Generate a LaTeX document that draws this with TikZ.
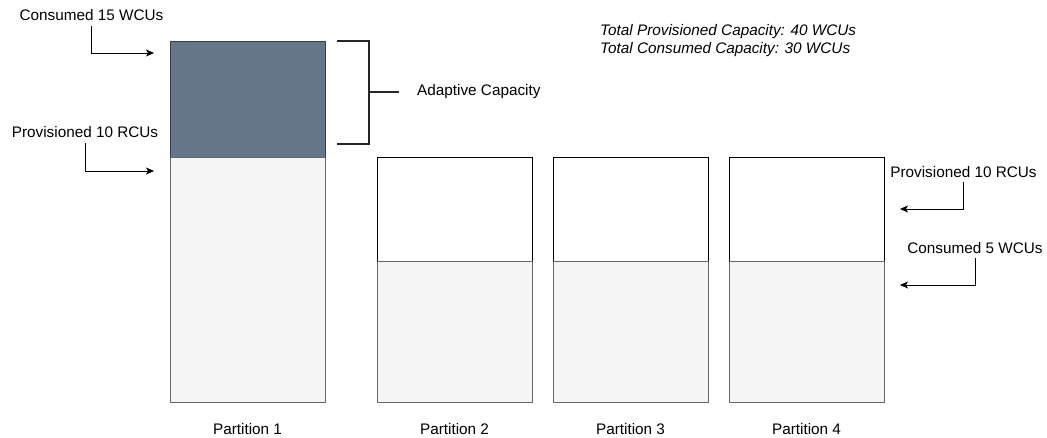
\documentclass[tikz,border=0pt]{standalone}
\usepackage{fontspec}
\setmainfont{Liberation Sans}
\usepackage{xcolor}
\usepackage{tikz}
\usetikzlibrary{arrows.meta,positioning}
\definecolor{capDark}{HTML}{647687}
\definecolor{capDarkLine}{HTML}{314354}
\definecolor{capLight}{HTML}{F5F5F5}
\definecolor{capLightLine}{HTML}{666666}
\tikzset{
  pbox/.style={draw,line width=1pt,inner sep=0pt,outer sep=0pt,minimum width=155pt},
  pdark/.style={pbox,fill=capDark,draw=capDarkLine},
  plight/.style={pbox,fill=capLight,draw=capLightLine},
  pfree/.style={pbox,fill=white,draw=black},
  plbl/.style={inner sep=2pt,font=\fontsize{15.3}{18}\selectfont},
  parrow/.style={-{Stealth[length=8pt,width=7pt,inset=2pt]},line width=1pt},
  pbrace/.style={line width=2pt,draw=black!85},
}

\begin{document}
\begin{tikzpicture}[x=1pt,y=-1pt]
\useasboundingbox (0,0) rectangle (1047,437);
% partition 1: adaptive capacity on top
\node[pdark,minimum height=116pt,anchor=north west] (p1top) at (170,41) {};
\node[plight,minimum height=245pt,below=0pt of p1top] (p1bot) {};
% partitions 2 to 4
\node[pfree,minimum height=104pt,right=52pt of p1bot.north east,anchor=north west] (p2top) {};
\node[plight,minimum height=141pt,below=0pt of p2top] (p2bot) {};
\node[pfree,minimum height=104pt,right=21pt of p2top] (p3top) {};
\node[plight,minimum height=141pt,below=0pt of p3top] (p3bot) {};
\node[pfree,minimum height=104pt,right=21pt of p3top] (p4top) {};
\node[plight,minimum height=141pt,below=0pt of p4top] (p4bot) {};
\node[plbl] (n1) at (p1bot.south |- 0,429) {Partition 1};
\node[plbl] (n2) at (p2bot.south |- 0,429) {Partition 2};
\node[plbl] (n3) at (p3bot.south |- 0,429) {Partition 3};
\node[plbl] (n4) at (p4bot.south |- 0,429) {Partition 4};
% labels and arrows, left side
\node[plbl] (cons15) at (91.5,15) {Consumed 15 WCUs};
\node[plbl] (prov10l) at (85,132) {Provisioned 10 RCUs};
\coordinate (a15) at (154,53);
\coordinate (a10l) at (154,171);
\draw[parrow] ([yshift=-3pt]cons15.south) |- (a15);
\draw[parrow] ([yshift=-3pt]prov10l.south) |- (a10l);
% labels and arrows, right side
\node[plbl] (prov10r) at (963.5,172) {Provisioned 10 RCUs};
\node[plbl] (cons5) at (975,248) {Consumed 5 WCUs};
\coordinate (a10r) at (900,209);
\coordinate (a5) at (900,285);
\draw[parrow] ([yshift=-2pt]prov10r.south) |- (a10r);
\draw[parrow] ([yshift=-2pt]cons5.south) |- (a5);
% bracket
\coordinate (bt) at (337,41);
\coordinate (bb) at (337,144);
\coordinate (bm) at (369,92);
\node[plbl,anchor=west] (adapt) at (415,92) {Adaptive Capacity};
\draw[pbrace] (bt) -| (bm) |- (bb);
\draw[pbrace] (bm) -- ([xshift=-16pt]adapt.west);
% totals
\node[plbl,anchor=west,align=left,font=\fontsize{15.3}{18}\selectfont\itshape] (totals) at (598,41)
  {Total Provisioned Capacity: 40 WCUs\\Total Consumed Capacity: 30 WCUs};
\end{tikzpicture}
\end{document}
